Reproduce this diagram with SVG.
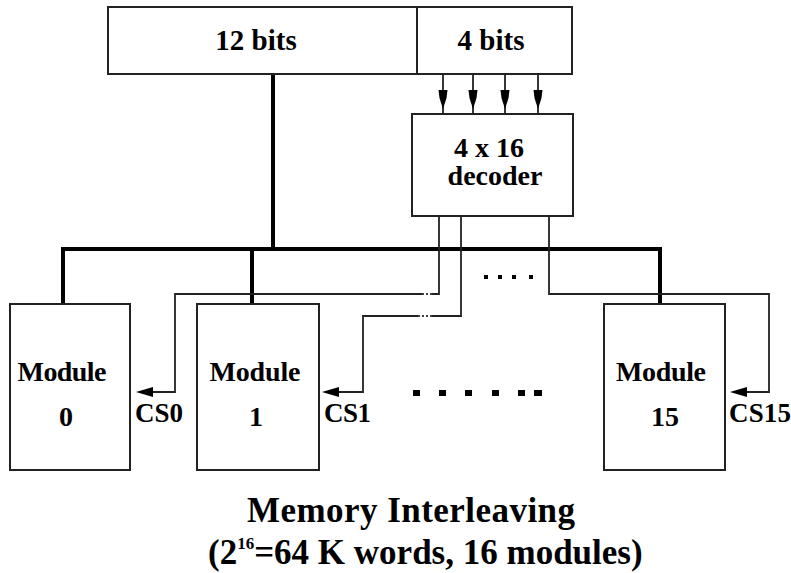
<svg xmlns="http://www.w3.org/2000/svg" width="791" height="573" viewBox="0 0 791 573">
<style>
.box{fill:#fff;stroke:#222;stroke-width:2}
.t{font-family:"Liberation Serif","Times New Roman",serif;font-weight:bold;fill:#000}
.thin{fill:none;stroke:#222;stroke-width:1.8}
.bus{fill:none;stroke:#000;stroke-width:4}
.head{fill:#000}
.dots{fill:none;stroke:#000;stroke-width:1.6;stroke-dasharray:2,2}
</style>
<rect width="791" height="573" fill="#fff"/>
<g id="connectors">
  <path class="bus" d="M273,74 V249 M63,249 H660 M63,247 V304 M252,249 V304 M660,247 V304"/>
  <path class="thin" d="M443,71 V114 M473,74 V114 M505,74 V114 M538,74 V114"/>
  <polygon class="head" points="438.5,90 447.5,90 446.5,98 443,109 439.5,98"/>
  <polygon class="head" points="468.5,90 477.5,90 476.5,98 473,109 469.5,98"/>
  <polygon class="head" points="500.5,90 509.5,90 508.5,98 505,109 501.5,98"/>
  <polygon class="head" points="533.5,90 542.5,90 541.5,98 538,109 534.5,98"/>
  <path class="thin" d="M439,216 V294 H432 M422,294 H175 V392 H148"/>
  <path class="dots" d="M422,294 H432"/>
  <polygon class="head" points="136,392 153,387 153,397"/>
  <path class="thin" d="M461,216 V316 H432 M418,316 H363 V392 H334"/>
  <path class="dots" d="M418,316 H432"/>
  <polygon class="head" points="322,392 339,387 339,397"/>
  <path class="thin" d="M549,216 V294 H769 V392 H742"/>
  <polygon class="head" points="730,392 747,387 747,397"/>
</g>
<g id="address">
  <rect class="box" x="108" y="7" width="464" height="67"/>
  <line x1="417" y1="7" x2="417" y2="74" stroke="#222" stroke-width="2"/>
  <text class="t" x="256" y="50" font-size="29" text-anchor="middle">12 bits</text>
  <text class="t" x="491" y="50" font-size="29" text-anchor="middle">4 bits</text>
</g>
<g id="decoder">
  <rect class="box" x="412" y="114" width="161" height="102"/>
  <text class="t" x="489" y="157" font-size="28" text-anchor="middle">4 x 16</text>
  <text class="t" x="495" y="185" font-size="28" text-anchor="middle">decoder</text>
</g>
<g id="module0">
  <rect class="box" x="10" y="304" width="120" height="166"/>
  <text class="t" x="62" y="381" font-size="28" text-anchor="middle" textLength="89">Module</text>
  <text class="t" x="66" y="426" font-size="28" text-anchor="middle">0</text>
</g>
<g id="module1">
  <rect class="box" x="197" y="304" width="122" height="166"/>
  <text class="t" x="255" y="381" font-size="28" text-anchor="middle" textLength="91">Module</text>
  <text class="t" x="256" y="426" font-size="28" text-anchor="middle">1</text>
</g>
<g id="module15">
  <rect class="box" x="604" y="304" width="121" height="166"/>
  <text class="t" x="661" y="381" font-size="28" text-anchor="middle" textLength="90">Module</text>
  <text class="t" x="665" y="426" font-size="28" text-anchor="middle">15</text>
</g>
<g id="labels">
  <text class="t" x="135" y="422" font-size="27" textLength="48">CS0</text>
  <text class="t" x="324" y="422" font-size="27" textLength="47">CS1</text>
  <text class="t" x="729" y="422" font-size="27" textLength="62">CS15</text>
  <g class="head">
    <rect x="484" y="275" width="4" height="4"/>
    <rect x="498" y="275" width="4" height="4"/>
    <rect x="512" y="275" width="4" height="4"/>
    <rect x="529" y="275" width="4" height="4"/>
    <rect x="413" y="390" width="7" height="6"/>
    <rect x="439" y="390" width="7" height="6"/>
    <rect x="465" y="390" width="7" height="6"/>
    <rect x="492" y="390" width="7" height="6"/>
    <rect x="518" y="390" width="7" height="6"/>
    <rect x="534" y="390" width="8" height="6"/>
  </g>
</g>
<g id="title">
  <text class="t" x="247" y="522" font-size="35" textLength="328">Memory Interleaving</text>
  <text class="t" x="208" y="564" font-size="35">(2<tspan font-size="17" dy="-15">16</tspan><tspan dy="15">=64 K words, 16 modules)</tspan></text>
</g>
</svg>
